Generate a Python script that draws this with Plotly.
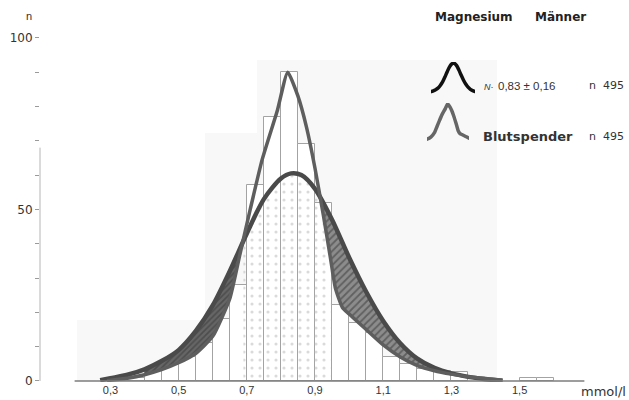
import numpy as np
import plotly.graph_objects as go

# ---------------- data ----------------
bin_centers = [0.325, 0.375, 0.425, 0.475, 0.525, 0.575, 0.625, 0.675, 0.725, 0.775,
               0.825, 0.875, 0.925, 0.975, 1.025, 1.075, 1.125, 1.175, 1.225, 1.275,
               1.325, 1.525, 1.575]
bin_counts = [1, 1, 3, 5, 7, 11, 18, 28, 57, 77,
              90, 69, 52, 22, 17, 14, 7, 5, 3.5, 3,
              2.5, 1, 1]
bin_width = 0.05

# fitted normal curve N 0,83 ± 0,16 (black, broad)
broad_x = [0.27, 0.30, 0.35, 0.40, 0.45, 0.50, 0.55, 0.60, 0.65, 0.70, 0.75, 0.80, 0.83,
           0.86, 0.90, 0.95, 1.00, 1.05, 1.10, 1.15, 1.20, 1.25, 1.30, 1.35, 1.40, 1.45]
broad_y = [0.2, 0.8, 1.8, 3.4, 5.8, 9, 14.5, 22, 32, 43, 53, 59, 60.5,
           60, 56, 47, 36, 26, 17.5, 11, 6.5, 3.8, 2.2, 1.2, 0.5, 0.1]

# Blutspender curve (grey, narrow)
narrow_x = [0.29, 0.35, 0.40, 0.45, 0.50, 0.55, 0.60, 0.65, 0.68, 0.71, 0.745, 0.79, 0.82,
            0.85, 0.875, 0.90, 0.925, 0.945, 0.96, 0.98, 1.00, 1.05, 1.10, 1.15, 1.20,
            1.25, 1.30, 1.35, 1.45]
narrow_y = [0.1, 0.8, 1.8, 3.3, 5.3, 8, 13, 24, 37, 50, 64.5, 79, 90,
            83, 74, 62, 48, 36, 27, 21.5, 19.5, 15, 10.5, 7, 4.5,
            3, 2, 1.2, 0.2]

x_tick_vals = [0.3, 0.5, 0.7, 0.9, 1.1, 1.3, 1.5]
x_tick_text = ["0,3", "0,5", "0,7", "0,9", "1,1", "1,3", "1,5"]
y_tick_vals = [0, 10, 20, 30, 40, 50, 60, 70, 80, 90, 100]
y_tick_text = ["0", "", "", "", "", "50", "", "", "", "", "100"]

title_left = "Magnesium"
title_right = "Männer"
legend_fit = "0,83 ± 0,16"
legend_donor = "Blutspender"
legend_n = "n\u00a0\u00a0495"
x_unit = "mmol/l"
y_unit = "n"

# ---------------- layout geometry ----------------
W, H = 629, 400
L, R, T, B = 40, 29, 20, 18
PW, PH = W - L - R, H - T - B
x_range = [0.0935, 1.7358]
y_range = [-0.3, 105.2]


def xp(px):
    return (px - L) / PW


def yp(py):
    return (H - B - py) / PH


def band(x0, x1, ux, uy, lx, ly, n=40):
    xs = np.linspace(x0, x1, n)
    up = np.interp(xs, ux, uy)
    lo = np.interp(xs, lx, ly)
    return np.concatenate([xs, xs[::-1]]), np.concatenate([up, lo[::-1]])


fig = go.Figure()

# histogram bars
fig.add_trace(go.Bar(x=bin_centers, y=bin_counts, width=bin_width,
                     marker=dict(color="white", line=dict(color="#a3a3a3", width=1)),
                     showlegend=False, hoverinfo="skip"))

# stippled core under the broad curve
sx = np.linspace(0.69, 0.945, 40)
sy = np.interp(sx, broad_x, broad_y)
fig.add_trace(go.Scatter(x=np.concatenate([sx, [sx[-1], sx[0]]]),
                         y=np.concatenate([sy, [0, 0]]),
                         mode="none", fill="toself",
                         fillpattern=dict(shape=".", fgcolor="#b5b5b5", bgcolor="rgba(0,0,0,0)",
                                          size=8, solidity=0.12),
                         showlegend=False, hoverinfo="skip"))

# dark hatched zones between the two curves
lx, ly = band(0.40, 0.685, broad_x, broad_y, narrow_x, narrow_y)
fig.add_trace(go.Scatter(x=lx, y=ly, mode="none", fill="toself",
                         fillpattern=dict(shape="/", fgcolor="#333333", bgcolor="#666666",
                                          size=4, solidity=0.4),
                         showlegend=False, hoverinfo="skip"))
rx, ry = band(0.918, 1.30, broad_x, broad_y, narrow_x, narrow_y)
fig.add_trace(go.Scatter(x=rx, y=ry, mode="none", fill="toself",
                         fillpattern=dict(shape="/", fgcolor="#333333", bgcolor="#8c8c8c",
                                          size=5, solidity=0.35),
                         showlegend=False, hoverinfo="skip"))

# curves
fig.add_trace(go.Scatter(x=broad_x, y=broad_y, mode="lines",
                         line=dict(color="#4a4a4a", width=4.5, shape="spline", smoothing=0.8),
                         showlegend=False, hoverinfo="skip"))
fig.add_trace(go.Scatter(x=narrow_x, y=narrow_y, mode="lines",
                         line=dict(color="#5e5e5e", width=3.5, shape="spline", smoothing=0.5),
                         showlegend=False, hoverinfo="skip"))

# legend icons on small inset axes (reusing the curve data)
fig.add_trace(go.Scatter(x=broad_x, y=broad_y, mode="lines", xaxis="x2", yaxis="y2",
                         line=dict(color="#111111", width=3.5, shape="spline", smoothing=0.8),
                         showlegend=False, hoverinfo="skip"))
fig.add_trace(go.Scatter(x=narrow_x, y=narrow_y, mode="lines", xaxis="x3", yaxis="y3",
                         line=dict(color="#666666", width=3.5, shape="spline", smoothing=0.5),
                         showlegend=False, hoverinfo="skip"))

shapes = [
    # faint scan tone
    dict(type="rect", xref="paper", yref="paper", x0=xp(77), x1=xp(205), y0=yp(381), y1=yp(320),
         fillcolor="#f8f8f8", line=dict(width=0), layer="below"),
    dict(type="rect", xref="paper", yref="paper", x0=xp(205), x1=xp(257), y0=yp(381), y1=yp(133),
         fillcolor="#f8f8f8", line=dict(width=0), layer="below"),
    dict(type="rect", xref="paper", yref="paper", x0=xp(257), x1=xp(497), y0=yp(381), y1=yp(60),
         fillcolor="#f8f8f8", line=dict(width=0), layer="below"),
    # baseline
    dict(type="line", xref="x", yref="y", x0=0.195, x1=1.69, y0=0, y1=0,
         line=dict(color="#7d7d7d", width=1.5)),
    # y axis line
    dict(type="line", xref="paper", yref="y", x0=0, x1=0, y0=0, y1=68,
         line=dict(color="#b5b5b5", width=1)),
]

txt = dict(family="Liberation Sans, Arial, sans-serif", color="#333333")
ann = [
    dict(text=y_unit, x=xp(29), y=yp(16), font=dict(size=11, **txt)),
    dict(text=f"<b>{title_left}</b>", x=xp(433), y=yp(17), xanchor="left",
         font=dict(family="DejaVu Sans, sans-serif", size=12, color="#222")),
    dict(text=f"<b>{title_right}</b>", x=xp(533), y=yp(17), xanchor="left",
         font=dict(family="DejaVu Sans, sans-serif", size=12, color="#222")),
    dict(text="<i>N</i>·", x=xp(482), y=yp(87), xanchor="left", font=dict(size=9, **txt)),
    dict(text=legend_fit, x=xp(496), y=yp(86), xanchor="left", font=dict(size=11.5, **txt)),
    dict(text=legend_n, x=xp(587), y=yp(86), xanchor="left",
         font=dict(family="DejaVu Sans, sans-serif", size=11, color="#333")),
    dict(text=f"<b>{legend_donor}</b>", x=xp(481), y=yp(136), xanchor="left",
         font=dict(family="DejaVu Sans, sans-serif", size=13, color="#333")),
    dict(text=legend_n, x=xp(587), y=yp(136), xanchor="left",
         font=dict(family="DejaVu Sans, sans-serif", size=11, color="#333")),
    dict(text=x_unit, x=xp(579), y=yp(391), xanchor="left",
         font=dict(family="DejaVu Sans, sans-serif", size=13, color="#333")),
]
for a in ann:
    a.update(xref="paper", yref="paper", showarrow=False, yanchor="middle")
    a.setdefault("xanchor", "center")

inset = dict(visible=False, showgrid=False, zeroline=False, fixedrange=True)
fig.update_layout(
    width=W, height=H, autosize=False,
    margin=dict(l=L, r=R, t=T, b=B),
    paper_bgcolor="white", plot_bgcolor="rgba(0,0,0,0)",
    bargap=0, showlegend=False,
    xaxis=dict(range=x_range, tickvals=x_tick_vals, ticktext=x_tick_text,
               showgrid=False, zeroline=False, showline=False, ticks="",
               tickfont=dict(size=11, **txt), automargin=False, fixedrange=True),
    yaxis=dict(range=y_range, tickvals=y_tick_vals, ticktext=y_tick_text,
               showgrid=False, zeroline=False, showline=False,
               ticks="outside", ticklen=4, tickcolor="#9a9a9a", tickwidth=1,
               tickfont=dict(family="DejaVu Sans, sans-serif", size=12, color="#333"),
               automargin=False, fixedrange=True),
    xaxis2=dict(domain=[xp(431), xp(475)], range=[0.35, 1.3], anchor="y2", **inset),
    yaxis2=dict(domain=[yp(94), yp(62)], range=[-3, 63], anchor="x2", **inset),
    xaxis3=dict(domain=[xp(427), xp(469)], range=[0.55, 1.1], anchor="y3", **inset),
    yaxis3=dict(domain=[yp(144), yp(103)], range=[-3, 92], anchor="x3", **inset),
    shapes=shapes, annotations=ann,
)

fig.write_html("out.html")
